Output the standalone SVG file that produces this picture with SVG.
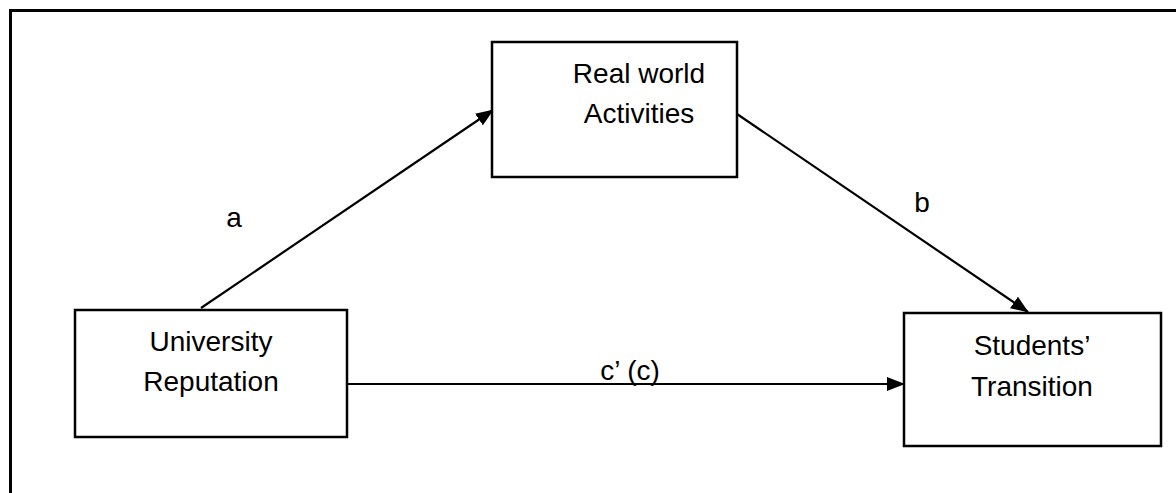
<svg xmlns="http://www.w3.org/2000/svg" width="1176" height="493" viewBox="0 0 1176 493">
  <style>
    .box { fill: #fff; stroke: #000; stroke-width: 2.5; }
    .lbl { font-family: "Liberation Sans", Arial, sans-serif; font-size: 28px; fill: #000; text-anchor: middle; }
    .edge { stroke: #000; stroke-width: 2.2; fill: none; marker-end: url(#head); }
  </style>
  <defs>
    <marker id="head" viewBox="0 0 18 14" refX="17" refY="7" markerWidth="18" markerHeight="14" markerUnits="userSpaceOnUse" orient="auto">
      <path d="M0,0 L18,7 L0,14 Z" fill="#000"/>
    </marker>
  </defs>

  <rect width="1176" height="493" fill="#fff"/>
  <!-- frame: top and left edges only -->
  <path d="M10.5,493 V10.5 H1176" fill="none" stroke="#000" stroke-width="3"/>

  <g id="connectors">
    <line class="edge" x1="201" y1="308" x2="493" y2="110"/>
    <line class="edge" x1="737" y1="114" x2="1028" y2="312"/>
    <line class="edge" x1="347" y1="384" x2="904" y2="384"/>
    <text class="lbl" x="234" y="227">a</text>
    <text class="lbl" x="922" y="212">b</text>
    <text class="lbl" x="630" y="380">c’ (c)</text>
  </g>

  <g id="real-world-activities">
    <rect class="box" x="492" y="42" width="245" height="135"/>
    <text class="lbl" x="639" y="83">Real world</text>
    <text class="lbl" x="639" y="123">Activities</text>
  </g>

  <g id="university-reputation">
    <rect class="box" x="75" y="310" width="272" height="127"/>
    <text class="lbl" x="211" y="351">University</text>
    <text class="lbl" x="211" y="391">Reputation</text>
  </g>

  <g id="students-transition">
    <rect class="box" x="904" y="313" width="257" height="133"/>
    <text class="lbl" x="1032" y="355">Students’</text>
    <text class="lbl" x="1032" y="396">Transition</text>
  </g>
</svg>
